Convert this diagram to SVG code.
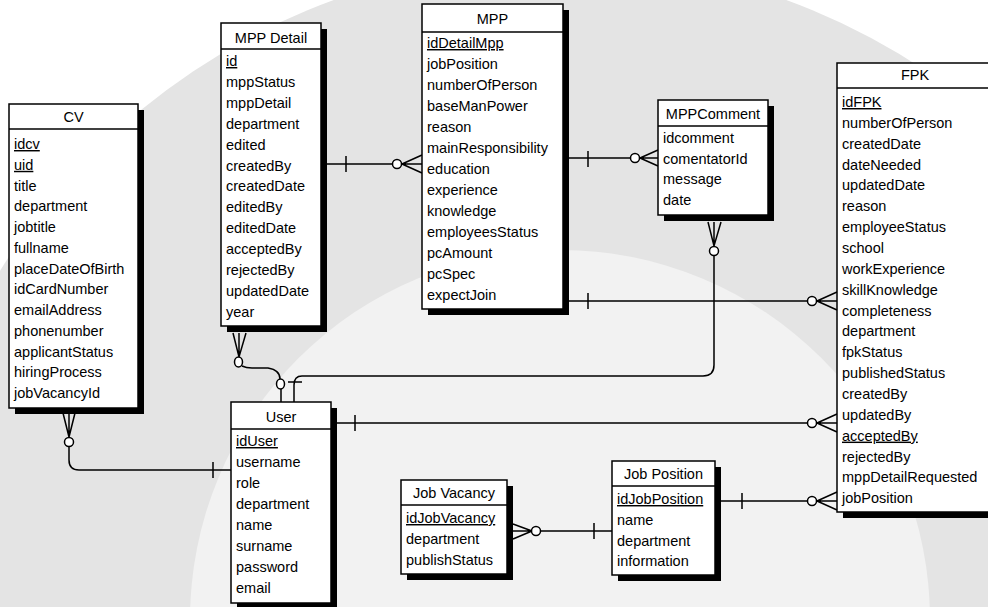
<svg xmlns="http://www.w3.org/2000/svg" width="988" height="607" viewBox="0 0 988 607">
<style>
.bx{fill:#fff;stroke:#000;stroke-width:1.5}
.sh{fill:#000}
.hl{stroke:#000;stroke-width:1.5}
text{font-family:"Liberation Sans",Arial,sans-serif;font-size:14.5px;fill:#000}
.t{text-anchor:middle}
.k{text-decoration:underline}
.c{fill:none;stroke:#000;stroke-width:1.5}
.o{fill:#fff;stroke:#000;stroke-width:1.5}
</style>
<rect width="988" height="607" fill="#fff"/>
<g id="watermark">
<circle cx="560" cy="620" r="660" fill="#e4e4e4"/>
<circle cx="560" cy="620" r="370" fill="#f2f2f2"/>
</g>

<g id="connectors">
<!-- MPP Detail - MPP -->
<path class="c" d="M327,164 H422 M346,156 V172 M402,164 L422,155 M402,164 L422,173"/>
<circle class="o" cx="397" cy="164" r="4.5"/>
<!-- MPP - MPPComment -->
<path class="c" d="M568,158 H658 M588,151 V167 M640,158 L658,150 M640,158 L658,166"/>
<circle class="o" cx="635" cy="158" r="4.5"/>
<!-- MPP - FPK -->
<path class="c" d="M568,301 H837 M588,293 V309 M817,301 L837,292 M817,301 L837,310"/>
<circle class="o" cx="812" cy="301" r="4.5"/>
<!-- MPPComment - User -->
<path class="c" d="M708,222 L714,246 L721,222 M714,222 V246 M714,256 V365 Q714,376 703,376 H302 Q294,376 294,385 V402 M288,382 H302"/>
<circle class="o" cx="714" cy="251" r="4.5"/>
<!-- MPP Detail - User -->
<path class="c" d="M233,333 L239,357 L246,333 M239,333 V357 M242,366 Q246,368 252,368 H268 Q280,370 280,379 M281,389 V402"/>
<ellipse class="o" cx="238.5" cy="362" rx="4" ry="5"/>
<ellipse class="o" cx="280.5" cy="384" rx="4" ry="5"/>
<!-- User - FPK -->
<path class="c" d="M337,423 H837 M355,415 V431 M817,423 L837,414 M817,423 L837,432"/>
<circle class="o" cx="812" cy="423" r="4.5"/>
<!-- CV - User -->
<path class="c" d="M63,413 L69,437 L75,413 M69,413 V437 M69,447 V460 Q69,470 79,470 H231 M213,462 V478"/>
<circle class="o" cx="69" cy="442" r="4.5"/>
<!-- Job Position - FPK -->
<path class="c" d="M721,501 H837 M742,493 V509 M817,501 L837,492 M817,501 L837,510"/>
<circle class="o" cx="812" cy="501" r="4.5"/>
<!-- Job Vacancy - Job Position -->
<path class="c" d="M513,531 H612 M513,524 L532,531 M513,539 L532,531 M594,523 V539"/>
<circle class="o" cx="536" cy="531" r="4.5"/>
</g>

<g id="cv">
<rect class="sh" x="15" y="110" width="129" height="304"/>
<rect class="bx" x="9" y="104" width="129" height="304"/>
<line class="hl" x1="9" y1="129" x2="138" y2="129"/>
<text class="t" x="73.5" y="122">CV</text>
<text x="14" y="149" class="k">idcv</text>
<text x="14" y="169.8" class="k">uid</text>
<text x="14" y="190.5">title</text>
<text x="14" y="211.3">department</text>
<text x="14" y="232">jobtitle</text>
<text x="14" y="252.8">fullname</text>
<text x="14" y="273.5">placeDateOfBirth</text>
<text x="14" y="294.3">idCardNumber</text>
<text x="14" y="315">emailAddress</text>
<text x="14" y="335.8">phonenumber</text>
<text x="14" y="356.5">applicantStatus</text>
<text x="14" y="377.3">hiringProcess</text>
<text x="14" y="398">jobVacancyId</text>
</g>

<g id="mppdetail">
<rect class="sh" x="227" y="29" width="100" height="303"/>
<rect class="bx" x="221" y="23" width="100" height="303"/>
<line class="hl" x1="221" y1="49" x2="321" y2="49"/>
<text class="t" x="271" y="43">MPP Detail</text>
<text x="226" y="66" class="k">id</text>
<text x="226" y="86.9">mppStatus</text>
<text x="226" y="107.8">mppDetail</text>
<text x="226" y="128.7">department</text>
<text x="226" y="149.6">edited</text>
<text x="226" y="170.5">createdBy</text>
<text x="226" y="191.4">createdDate</text>
<text x="226" y="212.3">editedBy</text>
<text x="226" y="233.2">editedDate</text>
<text x="226" y="254.1">acceptedBy</text>
<text x="226" y="275">rejectedBy</text>
<text x="226" y="295.9">updatedDate</text>
<text x="226" y="316.8">year</text>
</g>

<g id="mpp">
<rect class="sh" x="428" y="10" width="141" height="305"/>
<rect class="bx" x="422" y="4" width="141" height="305"/>
<line class="hl" x1="422" y1="32" x2="563" y2="32"/>
<text class="t" x="492.5" y="24">MPP</text>
<text x="427" y="48" class="k">idDetailMpp</text>
<text x="427" y="69">jobPosition</text>
<text x="427" y="90">numberOfPerson</text>
<text x="427" y="111">baseManPower</text>
<text x="427" y="132">reason</text>
<text x="427" y="153">mainResponsibility</text>
<text x="427" y="174">education</text>
<text x="427" y="195">experience</text>
<text x="427" y="216">knowledge</text>
<text x="427" y="237">employeesStatus</text>
<text x="427" y="258">pcAmount</text>
<text x="427" y="279">pcSpec</text>
<text x="427" y="300">expectJoin</text>
</g>

<g id="mppcomment">
<rect class="sh" x="664" y="106" width="110" height="115"/>
<rect class="bx" x="658" y="100" width="110" height="115"/>
<line class="hl" x1="658" y1="126" x2="768" y2="126"/>
<text class="t" x="713" y="119">MPPComment</text>
<text x="663" y="143">idcomment</text>
<text x="663" y="163.7">comentatorId</text>
<text x="663" y="184.4">message</text>
<text x="663" y="205">date</text>
</g>

<g id="fpk">
<rect class="sh" x="843" y="69" width="156" height="449"/>
<rect class="bx" x="837" y="63" width="156" height="449"/>
<line class="hl" x1="837" y1="88" x2="993" y2="88"/>
<text class="t" x="915" y="80">FPK</text>
<text x="842" y="107" class="k">idFPK</text>
<text x="842" y="127.9">numberOfPerson</text>
<text x="842" y="148.7">createdDate</text>
<text x="842" y="169.6">dateNeeded</text>
<text x="842" y="190.4">updatedDate</text>
<text x="842" y="211.3">reason</text>
<text x="842" y="232.1">employeeStatus</text>
<text x="842" y="253">school</text>
<text x="842" y="273.8">workExperience</text>
<text x="842" y="294.7">skillKnowledge</text>
<text x="842" y="315.5">completeness</text>
<text x="842" y="336.4">department</text>
<text x="842" y="357.2">fpkStatus</text>
<text x="842" y="378.1">publishedStatus</text>
<text x="842" y="398.9">createdBy</text>
<text x="842" y="419.8">updatedBy</text>
<text x="842" y="440.6" class="k">acceptedBy</text>
<text x="842" y="461.5">rejectedBy</text>
<text x="842" y="482.3">mppDetailRequested</text>
<text x="842" y="503.2">jobPosition</text>
</g>

<g id="user">
<rect class="sh" x="237" y="408" width="100" height="201"/>
<rect class="bx" x="231" y="402" width="100" height="201"/>
<line class="hl" x1="231" y1="429" x2="331" y2="429"/>
<text class="t" x="281" y="422">User</text>
<text x="236" y="446" class="k">idUser</text>
<text x="236" y="467">username</text>
<text x="236" y="488">role</text>
<text x="236" y="509">department</text>
<text x="236" y="530">name</text>
<text x="236" y="551">surname</text>
<text x="236" y="572">password</text>
<text x="236" y="593">email</text>
</g>

<g id="jobvacancy">
<rect class="sh" x="407" y="486" width="106" height="94"/>
<rect class="bx" x="401" y="480" width="106" height="94"/>
<line class="hl" x1="401" y1="505" x2="507" y2="505"/>
<text class="t" x="454" y="498">Job Vacancy</text>
<text x="406" y="523" class="k">idJobVacancy</text>
<text x="406" y="544">department</text>
<text x="406" y="565">publishStatus</text>
</g>

<g id="jobposition">
<rect class="sh" x="618" y="467" width="103" height="114"/>
<rect class="bx" x="612" y="461" width="103" height="114"/>
<line class="hl" x1="612" y1="486" x2="715" y2="486"/>
<text class="t" x="663.5" y="479">Job Position</text>
<text x="617" y="504" class="k">idJobPosition</text>
<text x="617" y="525">name</text>
<text x="617" y="545.5">department</text>
<text x="617" y="566">information</text>
</g>
</svg>
